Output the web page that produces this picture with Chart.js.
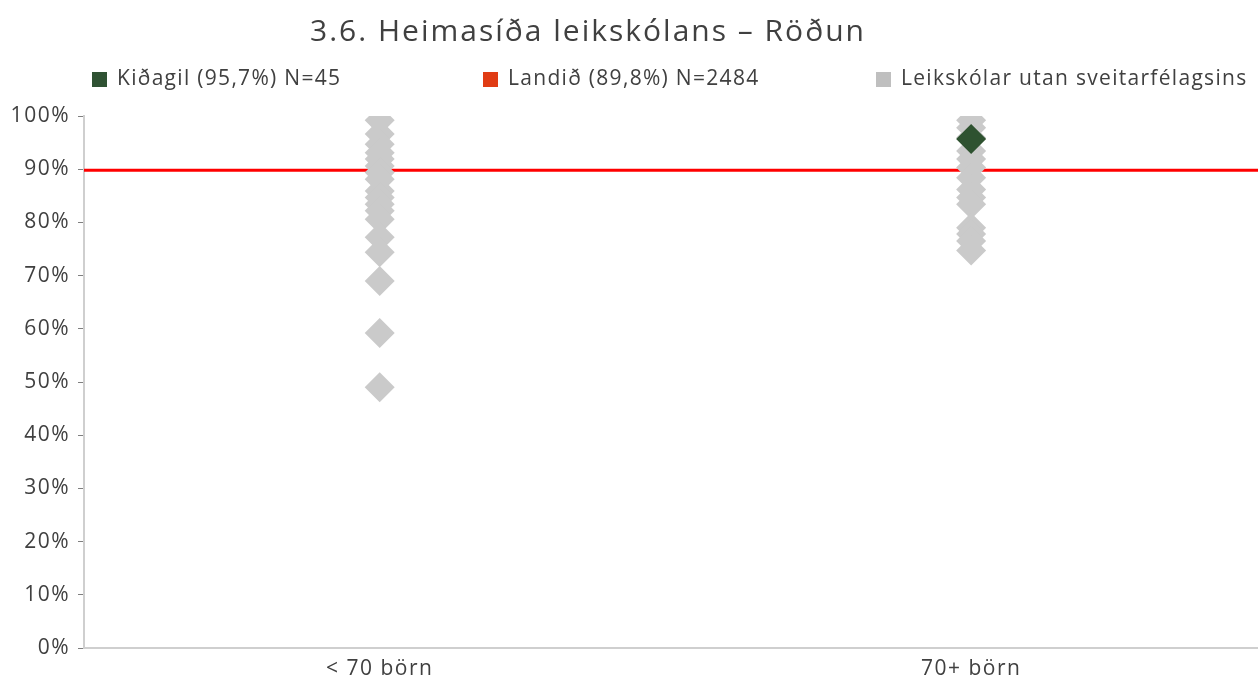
<!DOCTYPE html>
<html>
<head>
<meta charset="utf-8">
<script src="https://cdn.jsdelivr.net/npm/chart.js@4/dist/chart.umd.min.js"></script>
<style>
  html, body { margin: 0; padding: 0; background: #fff; overflow: hidden; }
  #myCanvas { display: block; }
</style>
</head>
<body>
<canvas id="myCanvas" width="1258" height="680"></canvas>
<script>
const chartTitle = '3.6. Heimasíða leikskólans – Röðun';
const categories = ['< 70 börn', '70+ börn'];
const legendLabels = ['Kiðagil (95,7%) N=45', 'Landið (89,8%) N=2484', 'Leikskólar utan sveitarfélagsins'];
const legendColors = ['#2F5233', '#E03C14', '#BFBFBF'];

// other preschools, percent
const smallSchools = [99.2, 96.6, 94.7, 93.1, 91.9, 90.6, 89.4, 88.1, 85.9, 84.7, 83.4, 82.2, 80.6, 77.2, 74.4, 69.0, 59.2, 49.0];
const bigSchools = [99.2, 97.8, 95.9, 93.4, 91.9, 90.3, 88.4, 86.2, 84.7, 83.4, 79.0, 77.8, 76.5, 74.7];
const kidagil = 95.7;
const landid = 89.8;
const yTicks = [0, 10, 20, 30, 40, 50, 60, 70, 80, 90, 100];

const fontFam = '"Open Sans", Lato, sans-serif';
const textCol = '#404040';

// gray points: category index + 0.5 puts them in the middle of each band
const grayPoints = [];
smallSchools.forEach(v => grayPoints.push({x: 0.5, y: v}));
bigSchools.forEach(v => grayPoints.push({x: 1.5, y: v}));

// a bit of tracking so the axis text is as wide as the original font
const spacing = {
  id: 'spacing',
  beforeDraw(chart){ chart.ctx.letterSpacing = '1.5px'; }
};

// title + legend drawn by hand so they can sit where they need to
const header = {
  id: 'header',
  afterDraw(chart){
    const c = chart.ctx;
    c.save();
    c.fillStyle = textCol;
    c.letterSpacing = '2px';
    c.font = '30px ' + fontFam;
    c.textAlign = 'center';
    c.textBaseline = 'middle';
    c.fillText(chartTitle, 588, 32);

    const xs = [92, 483, 876];
    c.letterSpacing = '1.3px';
    c.font = '21px ' + fontFam;
    c.textAlign = 'left';
    legendLabels.forEach((lbl, i)=>{
      c.fillStyle = legendColors[i];
      c.fillRect(xs[i], 72, 15, 15);
      c.fillStyle = textCol;
      c.fillText(lbl, xs[i] + 25, 79);
    });
    c.restore();
  }
};

const ctx = document.querySelector('#myCanvas').getContext('2d');
const myChart = new Chart(ctx, {
  data: {
    datasets: [
      {
        type: 'scatter',
        data: [{x: 1.5, y: kidagil}],
        pointStyle: 'rectRot',
        pointRadius: 15,
        pointHoverRadius: 15,
        backgroundColor: '#2E5230',
        borderWidth: 0,
        order: 1
      },
      {
        type: 'scatter',
        data: grayPoints,
        pointStyle: 'rectRot',
        pointRadius: 15,
        pointHoverRadius: 15,
        backgroundColor: '#CACACA',
        borderWidth: 0,
        order: 2
      },
      {
        type: 'line',
        data: [{x: 0, y: landid}, {x: 2, y: landid}],
        borderColor: '#FF0000',
        borderWidth: 3,
        pointRadius: 0,
        fill: false,
        order: 3
      }
    ]
  },
  options: {
    responsive: false,
    animation: false,
    events: [],
    layout: {
      autoPadding: false,
      padding: { top: 116, right: 0, left: 0, bottom: 0 }
    },
    plugins: {
      legend: { display: false },
      title: { display: false },
      tooltip: { enabled: false }
    },
    scales: {
      x: {
        type: 'linear',
        min: 0,
        max: 1.985,
        afterBuildTicks: (axis)=>{
          axis.ticks = categories.map((c, i)=>({value: i + 0.5}));
        },
        afterFit: (axis)=>{
          axis.height = 32;
          axis.paddingLeft = 0;
          axis.paddingRight = 0;
        },
        ticks: {
          callback: (v)=> categories[Math.round(v - 0.5)],
          color: textCol,
          font: { size: 21, family: fontFam },
          padding: 8,
          maxRotation: 0
        },
        grid: { display: false, drawTicks: false },
        border: { color: '#CFCFCF', width: 2 }
      },
      y: {
        min: 0,
        max: 100,
        afterBuildTicks: (axis)=>{
          axis.ticks = yTicks.map(v=>({value: v}));
        },
        afterFit: (axis)=>{ axis.width = 84; },
        ticks: {
          callback: (v)=> v + '%',
          color: textCol,
          font: { size: 21, family: fontFam },
          padding: 8
        },
        grid: {
          display: true,
          drawOnChartArea: false,
          drawTicks: true,
          tickLength: 6,
          color: '#7F7F7F',
          lineWidth: 1
        },
        border: { color: '#CFCFCF', width: 2 }
      }
    }
  },
  plugins: [spacing, header]
});
</script>
</body>
</html>
